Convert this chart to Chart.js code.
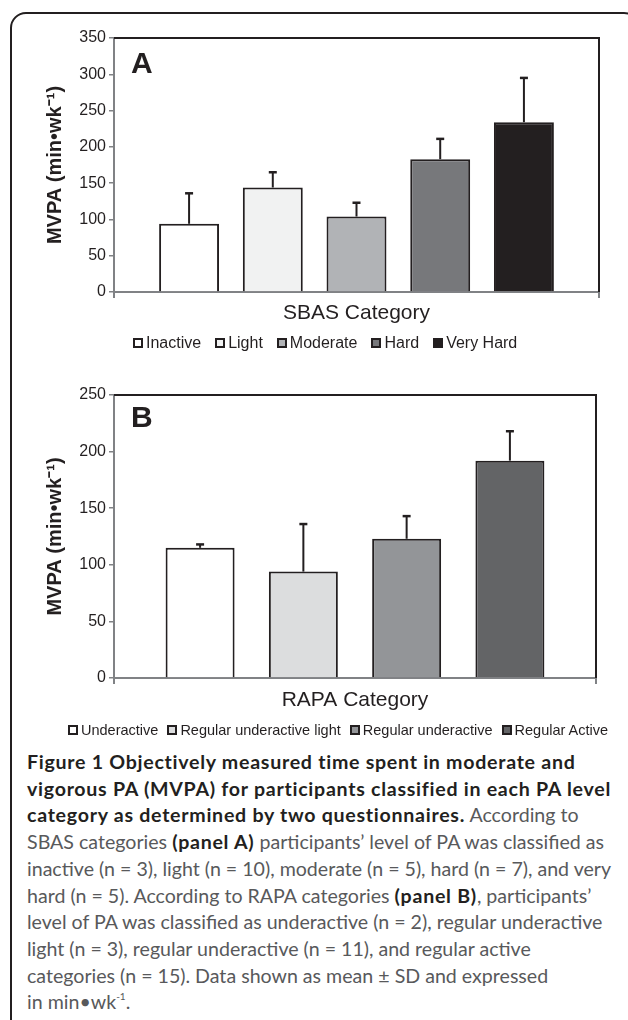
<!DOCTYPE html>
<html>
<head>
<meta charset="utf-8">
<script src="https://cdn.jsdelivr.net/npm/chart.js@4.4.1/dist/chart.umd.min.js"></script>
<style>
html, body { margin: 0; padding: 0; background: #fff; }
body { width: 628px; height: 1020px; position: relative; overflow: hidden; font-family: "Liberation Sans", Arial, sans-serif; }
.page { position: absolute; left: 0; top: 0; width: 628px; height: 1020px; overflow: hidden; }
.frame { position: absolute; left: 10px; top: 12px; width: 630px; height: 1060px; border: 2px solid #231f20; border-radius: 16px; box-sizing: border-box; }
.wrap { position: absolute; left: 0; width: 628px; }
#wrapA { top: 0; height: 335px; }
#wrapB { top: 355px; height: 365px; }
.legend { position: absolute; height: 20px; line-height: 20px; white-space: nowrap; color: #231f20; display: flex; align-items: center; }
.legend .item { display: inline-flex; align-items: center; }
.legend i { display: inline-block; width: 10px; height: 10px; border: 2px solid #231f20; box-sizing: border-box; margin-right: 3px; }
#legendA { left: 133px; top: 333px; font-size: 16px; }
#legendA .item { margin-right: 14px; }
#legendB { left: 68px; top: 720px; font-size: 14.5px; }
#legendB .item { margin-right: 9px; }
.caption { position: absolute; left: 27px; top: 749px; font-family: Lato, "Open Sans", sans-serif; font-size: 19.6px; line-height: 26.7px; color: #58595b; white-space: nowrap; }
.caption b { color: #231f20; font-weight: 700; letter-spacing: 0.72px; }
.caption sup { font-size: 10px; line-height: 0; position: relative; top: -2px; }
</style>
</head>
<body>
<div class="page">
<div class="frame"></div>
<div class="wrap" id="wrapA"><canvas id="chartA"></canvas></div>
<div class="legend" id="legendA"></div>
<div class="wrap" id="wrapB"><canvas id="chartB"></canvas></div>
<div class="legend" id="legendB"></div>
<div class="caption">
<div><b>Figure 1 Objectively measured time spent in moderate and</b></div>
<div><b>vigorous PA (MVPA) for participants classified in each PA level</b></div>
<div><b>category as determined by two questionnaires.</b> According to</div>
<div>SBAS categories <b>(panel A)</b> participants’ level of PA was classified as</div>
<div>inactive (n = 3), light (n = 10), moderate (n = 5), hard (n = 7), and very</div>
<div>hard (n = 5). According to RAPA categories <b>(panel B)</b>, participants’</div>
<div>level of PA was classified as underactive (n = 2), regular underactive</div>
<div>light (n = 3), regular underactive (n = 11), and regular active</div>
<div>categories (n = 15). Data shown as mean ± SD and expressed</div>
<div>in min•wk<sup>-1</sup>.</div>
</div>
</div>
<script>
// Panel A - SBAS
const sbasCategories = ['Inactive', 'Light', 'Moderate', 'Hard', 'Very Hard'];
const sbasMeans = [94, 144, 104, 183, 234];
const sbasSD = [42, 21, 19, 28, 61];
const sbasColors = ['#ffffff', '#f1f2f2', '#b1b3b6', '#77787b', '#231f20'];
const sbasTicks = [0, 50, 100, 150, 200, 250, 300, 350];

// Panel B - RAPA
const rapaCategories = ['Underactive', 'Regular underactive light', 'Regular underactive', 'Regular Active'];
const rapaMeans = [115, 94, 123, 192];
const rapaSD = [3, 42, 20, 26];
const rapaColors = ['#ffffff', '#dcddde', '#939598', '#636466'];
const rapaTicks = [0, 50, 100, 150, 200, 250];

const INK = '#231f20';
const AXIS = '#808285';

Chart.defaults.font.family = '"Liberation Sans", Arial, sans-serif';
Chart.defaults.color = INK;

// error bars (upper half only, as in the figure)
const errorBars = {
    id: 'errorBars',
    afterDatasetsDraw(chart, args, opts) {
        const ctx = chart.ctx;
        const y = chart.scales.y;
        ctx.save();
        ctx.strokeStyle = INK;
        chart.data.datasets.forEach((ds, i) => {
            const bar = chart.getDatasetMeta(i).data[0];
            const top = y.getPixelForValue(ds.data[0] + opts.values[i]);
            ctx.lineWidth = 2;
            ctx.beginPath();
            ctx.moveTo(bar.x, bar.y);
            ctx.lineTo(bar.x, top);
            ctx.stroke();
            ctx.lineWidth = 2.5;
            ctx.beginPath();
            ctx.moveTo(bar.x - 4, top);
            ctx.lineTo(bar.x + 4, top);
            ctx.stroke();
        });
        ctx.restore();
    }
};

// black top/right box edges + panel letter
const panelFrame = {
    id: 'panelFrame',
    afterDraw(chart, args, opts) {
        const { ctx, chartArea: a } = chart;
        ctx.save();
        ctx.strokeStyle = INK;
        ctx.lineWidth = 2;
        ctx.beginPath();
        ctx.moveTo(a.left, a.top);
        ctx.lineTo(a.right, a.top);
        ctx.lineTo(a.right, a.bottom);
        ctx.stroke();
        ctx.fillStyle = INK;
        ctx.font = 'bold 30px "Liberation Sans", Arial, sans-serif';
        ctx.textBaseline = 'alphabetic';
        ctx.fillText(opts.letter, a.left + 17, a.top + opts.letterDrop);
        ctx.restore();
    }
};

function makeChart(id, cfg) {
    const datasets = cfg.labels.map((label, i) => ({
        label: label,
        data: [cfg.means[i]],
        backgroundColor: cfg.colors[i],
        borderColor: INK,
        borderWidth: 2,
        barPercentage: cfg.barPct,
        categoryPercentage: cfg.catPct
    }));
    const ticks = cfg.ticks;
    return new Chart(document.getElementById(id), {
        type: 'bar',
        data: { labels: [''], datasets: datasets },
        plugins: [errorBars, panelFrame],
        options: {
            responsive: true,
            maintainAspectRatio: false,
            animation: false,
            layout: { padding: cfg.padding },
            plugins: {
                legend: { display: false },
                tooltip: { enabled: false },
                errorBars: { values: cfg.sd },
                panelFrame: { letter: cfg.letter, letterDrop: cfg.letterDrop }
            },
            scales: {
                x: {
                    z: 1,
                    grid: { drawOnChartArea: false, color: AXIS, lineWidth: 2, tickLength: 6 },
                    border: { color: AXIS, width: 2 },
                    ticks: { padding: 0 },
                    title: {
                        display: true,
                        text: cfg.xTitle,
                        color: INK,
                        font: { size: 21 },
                        padding: { top: 0, bottom: cfg.xTitlePad }
                    },
                    afterFit: (s) => { s.height = cfg.xHeight; }
                },
                y: {
                    min: ticks[0],
                    max: ticks[ticks.length - 1],
                    ticks: { stepSize: ticks[1] - ticks[0], color: INK, font: { size: 16 }, padding: 3 },
                    grid: { drawOnChartArea: false, color: AXIS, lineWidth: 1.5, tickLength: 5 },
                    border: { color: AXIS, width: 2 },
                    title: {
                        display: true,
                        text: 'MVPA (min•wk⁻¹)',
                        color: INK,
                        font: { size: 20, weight: 'bold' },
                        padding: { top: 43, bottom: 0 }
                    },
                    afterFit: (s) => { s.width = 114; }
                }
            }
        }
    });
}

function buildLegend(id, labels, colors) {
    const el = document.getElementById(id);
    labels.forEach((label, i) => {
        const item = document.createElement('span');
        item.className = 'item';
        item.innerHTML = `<i style="background:${colors[i]}"></i>${label}`;
        el.appendChild(item);
    });
}

makeChart('chartA', {
    labels: sbasCategories, means: sbasMeans, sd: sbasSD, colors: sbasColors, ticks: sbasTicks,
    barPct: 0.716, catPct: 0.863,
    padding: { top: 38, right: 29, left: 0, bottom: 0 },
    xTitle: 'SBAS Category', xTitlePad: 9, xHeight: 43,
    letter: 'A', letterDrop: 35
});
makeChart('chartB', {
    labels: rapaCategories, means: rapaMeans, sd: rapaSD, colors: rapaColors, ticks: rapaTicks,
    barPct: 0.668, catPct: 0.857,
    padding: { top: 40, right: 32, left: 0, bottom: 0 },
    xTitle: 'RAPA Category', xTitlePad: 7, xHeight: 42,
    letter: 'B', letterDrop: 32
});
buildLegend('legendA', sbasCategories, sbasColors);
buildLegend('legendB', rapaCategories, rapaColors);
</script>
</body>
</html>
